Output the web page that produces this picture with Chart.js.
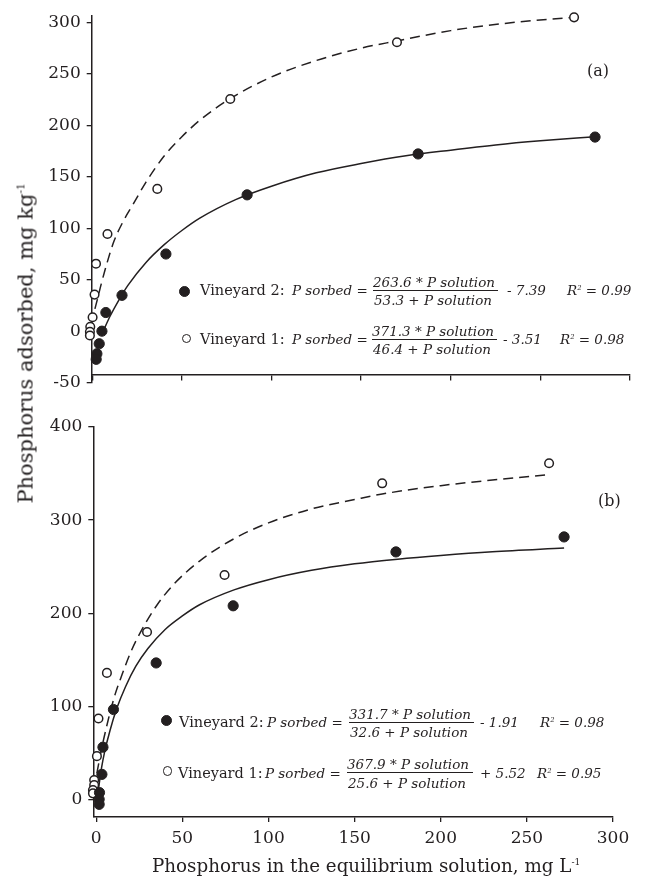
<!DOCTYPE html>
<html>
<head>
<meta charset="utf-8">
<script src="https://cdn.jsdelivr.net/npm/chart.js@4/dist/chart.umd.min.js"></script>
<style>
  html, body { margin: 0; padding: 0; background: #fff; }
  #wrap { position: relative; width: 649px; height: 877px; overflow: hidden; font-family: "DejaVu Serif", serif; color: #231f20; }
  #boxA { position: absolute; left: 0; top: 0; width: 649px; height: 400px; }
  #boxB { position: absolute; left: 0; top: 400px; width: 649px; height: 477px; }
  .t { position: absolute; white-space: nowrap; line-height: 1; color: #231f20; }
  .i { font-style: italic; }
  .bar { position: absolute; height: 1.2px; background: #231f20; }
  .mk { position: absolute; border-radius: 50%; box-sizing: border-box; }
  sup.s { font-size: 0.5em; vertical-align: 0.75em; line-height: 0; }
</style>
</head>
<body>
<div id="wrap">
  <div id="boxA"><canvas id="cA" width="649" height="400"></canvas></div>
  <div id="boxB"><canvas id="cB" width="649" height="477"></canvas></div>
</div>
<script>
// ---------------- DATA ----------------
// Panel (a)
const aV2x = [280.5, 181.8, 86.4, 41.1, 16.6, 7.6, 5.4, 3.9, 2.6, 2.2];
const aV2y = [188.7, 172.3, 132.6, 75.2, 35.1, 18.4, 0.3, -11.9, -21.6, -27];
const aV1x = [268.8, 170, 77, 36.3, 8.5, 2.1, 1.3, 0.2, -1.1, -1.3, -1.3];
const aV1y = [304.9, 280.7, 225.6, 138.4, 94.6, 65.8, 35.8, 13.8, 4.5, -0.3, -3.9];
const aFit2x = [5.5, 10, 15, 20, 30, 40, 50, 60, 80, 100, 125, 150, 175, 200, 225, 250, 280.5];
const aFit2y = [-2, 15, 31, 45, 67, 84, 98, 110, 128, 141, 154, 163, 170.5, 176, 181, 185, 189];
const aFit1x = [1.5, 3, 5, 8, 12, 17, 23, 30, 40, 50, 60, 77, 100, 125, 150, 170, 200, 230, 268.8];
const aFit1y = [22, 32, 46, 65, 87, 106, 124, 145, 170, 189, 205, 226, 247, 263, 275, 282, 292, 299, 305];
// Panel (b)
const bV2x = [271.6, 174, 79.5, 34.8, 10, 3.9, 3.3, 1.9, 1.7, 1.7];
const bV2y = [281.9, 265.8, 207.9, 146.5, 96.5, 56, 26.8, 7.2, 0, -5.4];
const bV1x = [262.9, 166, 74.5, 29.5, 6.2, 1.3, 0.4, -1.2, -1.2, -1.9, -1.9];
const bV1y = [361, 339.5, 241, 179.7, 135.8, 86.8, 46.4, 20.7, 15.3, 10, 6.4];
const bFit2x = [1.3, 3, 5, 8, 12, 17, 23, 30, 40, 50, 60, 80, 100, 125, 150, 175, 200, 230, 271.6];
const bFit2y = [11, 33, 52, 74, 98, 121, 143, 162, 182.5, 197, 209, 225, 236, 246, 253, 258, 262, 266, 270];
const bFit1x = [0.4, 2, 4, 6, 8, 11, 15, 20, 27, 35, 45, 60, 80, 100, 125, 150, 166, 200, 230, 263.5];
const bFit1y = [28, 44, 62, 78, 93, 113, 134, 158, 184, 208, 231, 256, 280, 297, 312, 322, 328, 337, 343, 349];
// Axis ticks
const xTicks = [0, 50, 100, 150, 200, 250, 300];
const yTicksA = [-50, 0, 50, 100, 150, 200, 250, 300];
const yTicksB = [0, 100, 200, 300, 400];
// Texts
const seriesNames = ["Vineyard 2:", "Vineyard 1:"];
const eqA = [
  { num: "263.6 * P solution", den: "53.3 + P solution", c: "- 7.39", r2: "0.99" },
  { num: "371.3 * P solution", den: "46.4 + P solution", c: "- 3.51", r2: "0.98" }
];
const eqB = [
  { num: "331.7 * P solution", den: "32.6 + P solution", c: "- 1.91", r2: "0.98" },
  { num: "367.9 * P solution", den: "25.6 + P solution", c: "+ 5.52", r2: "0.95" }
];
const yTitle = "Phosphorus adsorbed, mg kg";
const xTitle = "Phosphorus in the equilibrium solution, mg L";

// ---------------- CHARTS ----------------
const INK = "#231f20";
const FONT = "'DejaVu Serif', serif";
const zip = (xs, ys) => xs.map((x, i) => ({ x: x, y: ys[i] }));

function datasets(v1x, v1y, v2x, v2y, f1x, f1y, f2x, f2y) {
  return [
    { label: "V1", data: zip(v1x, v1y), showLine: false, pointRadius: 4.3, pointBorderWidth: 1.5,
      pointBackgroundColor: "#fff", pointBorderColor: INK, order: 1, clip: false },
    { label: "V2", data: zip(v2x, v2y), showLine: false, pointRadius: 5.1, pointBorderWidth: 1,
      pointBackgroundColor: INK, pointBorderColor: INK, order: 0, clip: false },
    { label: "fit V1", data: zip(f1x, f1y), showLine: true, pointRadius: 0, borderColor: INK,
      borderWidth: 1.5, borderDash: [10, 6], cubicInterpolationMode: "monotone", order: 3, clip: false },
    { label: "fit V2", data: zip(f2x, f2y), showLine: true, pointRadius: 0, borderColor: INK,
      borderWidth: 1.5, cubicInterpolationMode: "monotone", order: 2, clip: false }
  ];
}

function axisCommon() {
  return {
    grid: { display: true, drawOnChartArea: false, drawTicks: true, tickLength: 5, color: INK, lineWidth: 1.3 },
    border: { display: true, color: INK, width: 1.5 },
  };
}

function makeChart(id, ds, xOpt, yOpt, padding) {
  return new Chart(document.getElementById(id), {
    type: "scatter",
    data: { datasets: ds },
    options: {
      responsive: false, animation: false, events: [],
      layout: { padding: padding },
      plugins: { legend: { display: false }, tooltip: { enabled: false } },
      scales: { x: xOpt, y: yOpt }
    }
  });
}

// Panel (a)
makeChart("cA",
  datasets(aV1x, aV1y, aV2x, aV2y, aFit1x, aFit1y, aFit2x, aFit2y),
  Object.assign(axisCommon(), {
    type: "linear", min: -0.3, max: 300, position: { y: -42 },
    afterBuildTicks: s => { s.ticks = xTicks.map(v => ({ value: v })); },
    ticks: { display: false }
  }),
  Object.assign(axisCommon(), {
    type: "linear", min: -50, max: 306, position: "left",
    afterFit: s => { s.width = 91.7; },
    afterBuildTicks: s => { s.ticks = yTicksA.map(v => ({ value: v })); },
    ticks: { color: INK, padding: 6, font: { family: FONT, size: 17 } }
  }),
  { left: 0, right: 19, top: 16, bottom: 17 }
);

// Panel (b)
makeChart("cB",
  datasets(bV1x, bV1y, bV2x, bV2y, bFit1x, bFit1y, bFit2x, bFit2y),
  Object.assign(axisCommon(), {
    type: "linear", min: -1.7, max: 300, position: "bottom",
    afterFit: s => { s.height = 40; },
    afterBuildTicks: s => { s.ticks = xTicks.map(v => ({ value: v })); },
    ticks: { color: INK, padding: 6, maxRotation: 0, font: { family: FONT, size: 17 } }
  }),
  Object.assign(axisCommon(), {
    type: "linear", min: -19, max: 400, position: "left",
    afterFit: s => { s.width = 93.3; },
    afterBuildTicks: s => { s.ticks = yTicksB.map(v => ({ value: v })); },
    ticks: { color: INK, padding: 6, font: { family: FONT, size: 17 } }
  }),
  { left: 0, right: 36, top: 27, bottom: 20 }
);

// ---------------- TEXT ANNOTATIONS ----------------
const wrap = document.getElementById("wrap");
const ASC = 0.846; // baseline offset for line-height:1 (DejaVu)
function put(html, x, base, size, italic) {
  const d = document.createElement("div");
  d.className = "t" + (italic ? " i" : "");
  d.style.fontSize = size + "px";
  d.style.left = x + "px";
  d.style.top = (base - ASC * size) + "px";
  d.innerHTML = html;
  wrap.appendChild(d);
  return d;
}
function bar(x, y, w) {
  const d = document.createElement("div");
  d.className = "bar";
  d.style.left = x + "px"; d.style.top = y + "px"; d.style.width = w + "px";
  wrap.appendChild(d);
}
function marker(cx, cy, filled) {
  const d = document.createElement("div");
  d.className = "mk";
  const s = filled ? 11 : 9.5;
  d.style.width = s + "px"; d.style.height = s + "px";
  d.style.left = (cx - s / 2) + "px"; d.style.top = (cy - s / 2) + "px";
  d.style.background = filled ? INK : "#fff";
  d.style.border = "1.5px solid " + INK;
  wrap.appendChild(d);
}
const UP = 14.5, IT = 13.5;
function eqRow(e, name, filled, L) {
  marker(L.mx, L.my, filled);
  put(name, L.name, L.base, UP, false);
  put("P sorbed =", L.ps, L.base, IT, true);
  put(e.num, L.frac, L.base - 8.5, IT, true);
  put(e.den, L.frac + 1, L.base + 10, IT, true);
  bar(L.frac, L.base - 6, L.barw);
  put(e.c, L.c, L.base, IT, true);
  put('R<sup class="s">2</sup> = ' + e.r2, L.r, L.base, IT, true);
}
eqRow(eqA[0], seriesNames[0], true,  { mx: 184.3, my: 291, name: 200, ps: 292, frac: 373, barw: 125, c: 507, r: 567, base: 295.5 });
eqRow(eqA[1], seriesNames[1], false, { mx: 186.7, my: 338.3, name: 200, ps: 292, frac: 372, barw: 125, c: 503, r: 560, base: 344.5 });
eqRow(eqB[0], seriesNames[0], true,  { mx: 166, my: 720.7, name: 179, ps: 267, frac: 349, barw: 125, c: 480, r: 540, base: 727.5 });
eqRow(eqB[1], seriesNames[1], false, { mx: 167.3, my: 771, name: 178, ps: 265, frac: 347, barw: 126, c: 480, r: 537, base: 778 });

put("(a)", 587, 77, 16, false);
put("(b)", 598, 507, 16, false);

// axis titles
put(xTitle + '<sup class="s">-1</sup>', 152, 872, 18.3, false);
const yt = document.createElement("div");
yt.className = "t";
yt.style.fontSize = "21px";
yt.style.width = "440px";
yt.style.textAlign = "center";
yt.style.left = (26 - 220) + "px";
yt.style.top = (343 - 10.5) + "px";
yt.style.transform = "rotate(-90deg)";
yt.style.transformOrigin = "50% 50%";
yt.innerHTML = yTitle + '<sup class="s">-1</sup>';
wrap.appendChild(yt);
</script>
</body>
</html>
